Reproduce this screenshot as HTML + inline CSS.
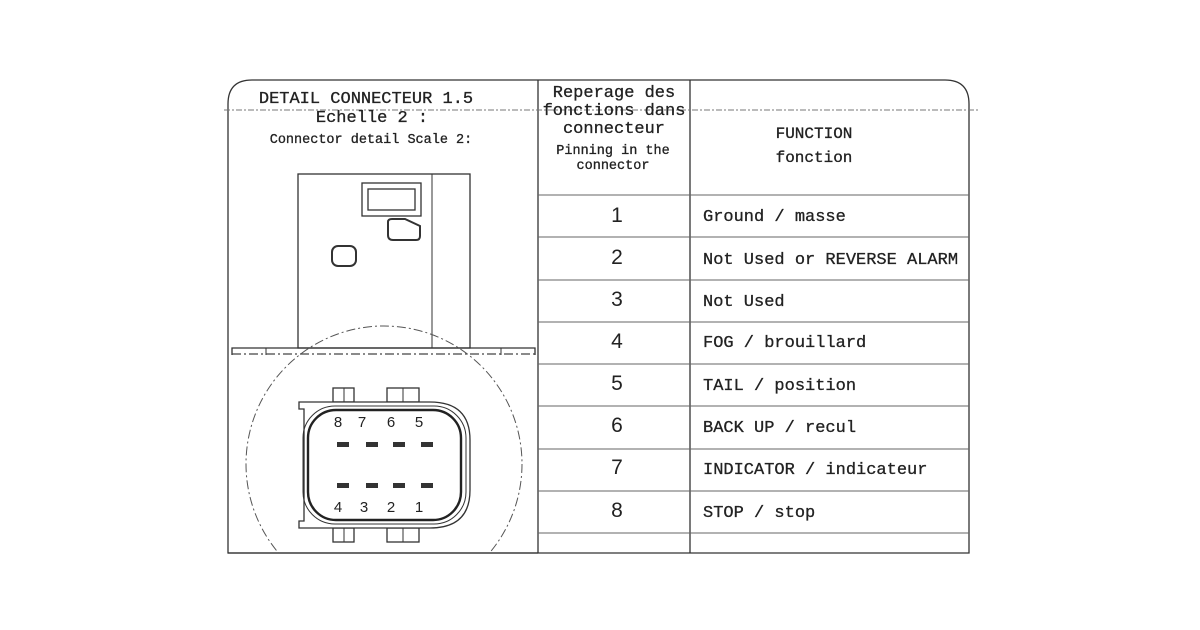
<!DOCTYPE html>
<html><head><meta charset="utf-8"><style>
html,body{margin:0;padding:0;background:#fff;width:1200px;height:630px;overflow:hidden}
svg{display:block}
</style></head><body>
<svg width="1200" height="630" viewBox="0 0 1200 630" xmlns="http://www.w3.org/2000/svg">
<g fill="none" stroke="#333" stroke-width="1.3">
<path d="M228,553 L228,104 Q228,80 252,80 L945,80 Q969,80 969,104 L969,553 Z"/>
<line x1="538" y1="80" x2="538" y2="553"/>
<line x1="690" y1="80" x2="690" y2="553"/>
<g stroke="#666" stroke-width="1">
<line x1="538" y1="195" x2="969" y2="195"/>
<line x1="538" y1="237" x2="969" y2="237"/>
<line x1="538" y1="280" x2="969" y2="280"/>
<line x1="538" y1="322" x2="969" y2="322"/>
<line x1="538" y1="364" x2="969" y2="364"/>
<line x1="538" y1="406" x2="969" y2="406"/>
<line x1="538" y1="449" x2="969" y2="449"/>
<line x1="538" y1="491" x2="969" y2="491"/>
<line x1="538" y1="533" x2="969" y2="533"/>
</g>
<line x1="224" y1="110" x2="978" y2="110" stroke="#777" stroke-width="1" stroke-dasharray="6,2,2,2"/>
<rect x="298" y="174" width="172" height="174"/>
<line x1="432" y1="174" x2="432" y2="348" stroke-width="1"/>
<rect x="362" y="183" width="59" height="33"/>
<rect x="368" y="189" width="47" height="21"/>
<path d="M388,222 Q388,219 392,219 L405,219 L420,226 L420,236 Q420,240 416,240 L393,240 Q388,240 388,235 Z" stroke-width="2"/>
<rect x="332" y="246" width="24" height="20" rx="6" stroke-width="2"/>
<path d="M232,355 L232,348 L535,348 L535,355"/>
<line x1="266" y1="348" x2="266" y2="355" stroke-width="1"/>
<line x1="501" y1="348" x2="501" y2="355" stroke-width="1"/>
<line x1="232" y1="354" x2="535" y2="354" stroke="#444" stroke-width="1.2" stroke-dasharray="9,3,2,3"/>
<clipPath id="c"><rect x="228" y="300" width="310" height="253"/></clipPath>
<circle cx="384" cy="464" r="138" stroke="#555" stroke-width="1" stroke-dasharray="9,3,2,3" clip-path="url(#c)"/>
<line x1="228" y1="553" x2="538" y2="553"/>
<rect x="333" y="388" width="21" height="14"/><line x1="344" y1="388" x2="344" y2="402" stroke-width="1"/>
<rect x="387" y="388" width="32" height="14"/><line x1="403" y1="388" x2="403" y2="402" stroke-width="1"/>
<rect x="333" y="528" width="21" height="14"/><line x1="344" y1="528" x2="344" y2="542" stroke-width="1"/>
<rect x="387" y="528" width="32" height="14"/><line x1="403" y1="528" x2="403" y2="542" stroke-width="1"/>
<path d="M299,402 L430,402 Q470,402 470,440 L470,490 Q470,528 430,528 L299,528 L299,521 L304,521 L304,409 L299,409 Z" fill="#fff"/>
<rect x="303" y="406" width="163" height="118" rx="32" stroke-width="1"/>
<rect x="308" y="410" width="153" height="110" rx="28" stroke-width="2.4" stroke="#222"/>
<g fill="#333" stroke="none">
<rect x="337" y="442" width="12" height="5"/><rect x="366" y="442" width="12" height="5"/><rect x="393" y="442" width="12" height="5"/><rect x="421" y="442" width="12" height="5"/>
<rect x="337" y="483" width="12" height="5"/><rect x="366" y="483" width="12" height="5"/><rect x="393" y="483" width="12" height="5"/><rect x="421" y="483" width="12" height="5"/>
</g>
</g>
<g font-family="Liberation Sans, Arial, sans-serif" fill="#222" font-size="15" text-anchor="middle">
<text x="338" y="427">8</text><text x="362" y="427">7</text><text x="391" y="427">6</text><text x="419" y="427">5</text>
<text x="338" y="512">4</text><text x="364" y="512">3</text><text x="391" y="512">2</text><text x="419" y="512">1</text>
</g>
<g font-family="Liberation Mono, DejaVu Sans Mono, monospace" fill="#222" stroke="#222" stroke-width="0.3" text-anchor="middle">
<text x="366" y="103" font-size="17">DETAIL CONNECTEUR 1.5</text>
<text x="372" y="122" font-size="17">Echelle 2 :</text>
<text x="371" y="143" font-size="13.5">Connector detail Scale 2:</text>
<text x="614" y="97" font-size="17">Reperage des</text>
<text x="614" y="115" font-size="17">fonctions dans</text>
<text x="614" y="133" font-size="17">connecteur</text>
<text x="613" y="154" font-size="13.5">Pinning in the</text>
<text x="613" y="169" font-size="13.5">connector</text>
<text x="814" y="138" font-size="16">FUNCTION</text>
<text x="814" y="162" font-size="16">fonction</text>
</g>
<g font-family="Liberation Sans, Arial, sans-serif" fill="#222" font-size="21" text-anchor="middle">
<text x="617" y="222">1</text><text x="617" y="264">2</text><text x="617" y="306">3</text><text x="617" y="348">4</text>
<text x="617" y="390">5</text><text x="617" y="432">6</text><text x="617" y="474">7</text><text x="617" y="517">8</text>
</g>
<g font-family="Liberation Mono, DejaVu Sans Mono, monospace" fill="#222" stroke="#222" stroke-width="0.3" font-size="17">
<text x="703" y="221">Ground / masse</text>
<text x="703" y="264">Not Used or REVERSE ALARM</text>
<text x="703" y="306">Not Used</text>
<text x="703" y="347">FOG / brouillard</text>
<text x="703" y="390">TAIL / position</text>
<text x="703" y="432">BACK UP / recul</text>
<text x="703" y="474">INDICATOR / indicateur</text>
<text x="703" y="517">STOP / stop</text>
</g>
</svg>
</body></html>
